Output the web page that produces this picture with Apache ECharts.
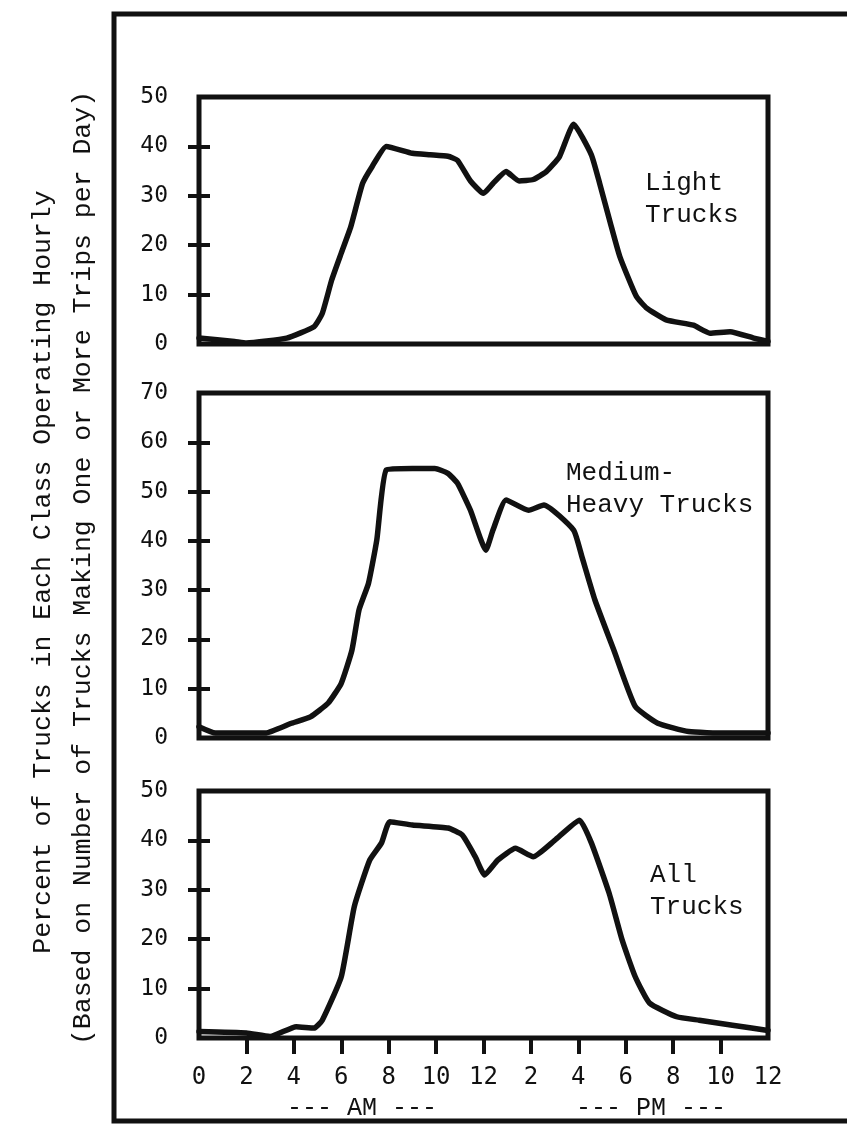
<!DOCTYPE html>
<html>
<head>
<meta charset="utf-8">
<script src="https://cdn.jsdelivr.net/npm/echarts@6/dist/echarts.min.js"></script>
<style>
  html, body { margin: 0; padding: 0; background: #fff; }
  #chart { width: 847px; height: 1125px; }
</style>
</head>
<body>
<div id="chart"></div>
<script>
// ---- Data (hour of day 0..24, percent of trucks operating) ----
const lightHours  = [0, 1.5, 2, 3.7, 4.85, 5.2, 5.6, 6.0, 6.4, 6.9, 7.3, 7.9, 9.0, 9.75, 10.5, 10.9, 11.45, 12.0, 12.4, 12.95, 13.5, 14.1, 14.65, 15.2, 15.8, 16.55, 16.9, 17.35, 17.75, 18.45, 18.9, 19.7, 20.85, 21.55, 22.4, 23.4, 24];
const lightValues = [1.2, 0.5, 0.2, 1.2, 3.5, 6.2, 13, 18.4, 23.7, 32.5, 35.9, 40, 38.6, 38.3, 38, 37.2, 33, 30.5, 32.5, 34.9, 33, 33.3, 34.9, 37.9, 44.5, 38.3, 32.5, 24.5, 17.7, 9.6, 7.2, 4.9, 3.8, 2.2, 2.5, 1.2, 0.5];

const mediumHours  = [0, 0.7, 2.8, 3.9, 4.7, 5.45, 6.0, 6.45, 6.75, 7.15, 7.5, 7.9, 9.0, 9.95, 10.5, 10.9, 11.45, 12.1, 12.4, 12.95, 13.9, 14.55, 15.8, 16.15, 16.7, 17.5, 18.4, 19.35, 20.65, 22.2, 24];
const mediumValues = [2.3, 1.0, 1.0, 3.0, 4.3, 7.1, 11.1, 17.8, 26, 31.4, 40.2, 54.4, 54.7, 54.7, 53.7, 51.7, 46.2, 38.1, 42.2, 48.3, 46.2, 47.3, 42.2, 36.8, 28, 17.8, 6.4, 3.0, 1.3, 1.0, 1.0];

const allHours  = [0, 2.0, 3.0, 4.1, 4.85, 5.2, 6.0, 6.55, 7.2, 7.7, 8.05, 9.0, 10.5, 11.1, 11.65, 12.05, 12.6, 13.35, 14.1, 15.0, 16.05, 16.55, 17.3, 17.85, 18.4, 19.0, 20.15, 21.1, 22.5, 24];
const allValues = [1.3, 1.0, 0.3, 2.3, 2.0, 3.6, 12.4, 26.6, 36, 39.5, 43.8, 43.1, 42.5, 41.1, 36.7, 33, 36, 38.4, 36.7, 40, 44.1, 39.5, 29.3, 19.8, 12.4, 7.1, 4.3, 3.6, 2.6, 1.5];

const xTickLabels = ['0', '2', '4', '6', '8', '10', '12', '2', '4', '6', '8', '10', '12'];
const panelMax = [50, 70, 50];
const panelLabels = [['Light', 'Trucks'], ['Medium-', 'Heavy Trucks'], ['All', 'Trucks']];
const yTitle1 = 'Percent of Trucks in Each Class Operating Hourly';
const yTitle2 = '(Based on Number of Trucks Making One or More Trips per Day)';
const amLabel = '--- AM ---';
const pmLabel = '--- PM ---';

// ---- Layout ----
const INK = '#111';
const MONO = 'Liberation Mono, Courier New, monospace';
const NUMF = 'DejaVu Sans Mono, Liberation Mono, monospace';
const grids = [
  { left: 199, top: 97, width: 569, height: 247 },
  { left: 199, top: 393, width: 569, height: 345 },
  { left: 199, top: 791, width: 569, height: 247 }
];

const toPairs = (h, v) => h.map((x, i) => [x, v[i]]);
const seriesData = [toPairs(lightHours, lightValues), toPairs(mediumHours, mediumValues), toPairs(allHours, allValues)];

const range = (a, b, s) => { const r = []; for (let x = a; x <= b + 1e-9; x += s) r.push(x); return r; };

const option = {
  backgroundColor: '#fff',
  animation: false,
  grid: grids.map(g => Object.assign({ show: true, borderColor: INK, borderWidth: 5, backgroundColor: 'transparent' }, g)),
  xAxis: [0, 1, 2].map(i => ({
    type: 'value', gridIndex: i, min: 0, max: 24, interval: 2,
    axisLine: { show: false },
    splitLine: { show: false },
    axisTick: i === 2 ? { show: true, length: 16, lineStyle: { color: INK, width: 4 }, customValues: range(2, 22, 2) } : { show: false },
    axisLabel: i === 2 ? {
      show: true, margin: 28, color: INK, fontFamily: NUMF, fontSize: 24,
      formatter: v => xTickLabels[Math.round(v / 2)]
    } : { show: false }
  })),
  yAxis: [
    ...[0, 1, 2].map(i => ({
      type: 'value', gridIndex: i, min: 0, max: panelMax[i], interval: 10, position: 'left', offset: 0,
      axisLine: { show: false },
      splitLine: { show: false },
      axisTick: { show: true, length: 11, lineStyle: { color: INK, width: 4 }, customValues: range(10, panelMax[i] - 10, 10) },
      axisLabel: { show: true, margin: 31, color: INK, fontFamily: NUMF, fontSize: 23 }
    })),
    ...[0, 1, 2].map(i => ({
      type: 'value', gridIndex: i, min: 0, max: panelMax[i], interval: 10, position: 'left', offset: 0,
      axisLine: { show: false },
      splitLine: { show: false },
      axisTick: { show: true, inside: true, length: 11, lineStyle: { color: INK, width: 4 }, customValues: range(10, panelMax[i] - 10, 10) },
      axisLabel: { show: false }
    }))
  ],
  series: [0, 1, 2].map(i => ({
    type: 'line', xAxisIndex: i, yAxisIndex: i,
    data: seriesData[i],
    smooth: 0.15,
    symbol: 'none',
    lineStyle: { color: INK, width: 5.5, join: 'round', cap: 'round' },
    z: 3
  })),
  graphic: [
    { type: 'polyline', shape: { points: [[850, 14], [114, 14], [114, 1121], [850, 1121]] }, style: { fill: 'none', stroke: INK, lineWidth: 5 }, z: 10 },
    { type: 'text', x: 43, y: 572, rotation: Math.PI / 2, style: { text: yTitle1, fill: INK, font: '26.5px ' + MONO, align: 'center', verticalAlign: 'middle' } },
    { type: 'text', x: 83, y: 568, rotation: Math.PI / 2, style: { text: yTitle2, fill: INK, font: '26.5px ' + MONO, align: 'center', verticalAlign: 'middle' } },
    { type: 'text', x: 645, y: 183, style: { text: panelLabels[0][0], fill: INK, font: '26px ' + MONO, verticalAlign: 'middle' } },
    { type: 'text', x: 645, y: 215, style: { text: panelLabels[0][1], fill: INK, font: '26px ' + MONO, verticalAlign: 'middle' } },
    { type: 'text', x: 566, y: 473, style: { text: panelLabels[1][0], fill: INK, font: '26px ' + MONO, verticalAlign: 'middle' } },
    { type: 'text', x: 566, y: 505, style: { text: panelLabels[1][1], fill: INK, font: '26px ' + MONO, verticalAlign: 'middle' } },
    { type: 'text', x: 650, y: 875, style: { text: panelLabels[2][0], fill: INK, font: '26px ' + MONO, verticalAlign: 'middle' } },
    { type: 'text', x: 650, y: 907, style: { text: panelLabels[2][1], fill: INK, font: '26px ' + MONO, verticalAlign: 'middle' } },
    { type: 'text', x: 362, y: 1108, style: { text: amLabel, fill: INK, font: '25px ' + MONO, align: 'center', verticalAlign: 'middle' } },
    { type: 'text', x: 651, y: 1108, style: { text: pmLabel, fill: INK, font: '25px ' + MONO, align: 'center', verticalAlign: 'middle' } }
  ]
};

const chart = echarts.init(document.getElementById('chart'), null, { renderer: 'canvas' });
chart.setOption(option);
</script>
</body>
</html>
